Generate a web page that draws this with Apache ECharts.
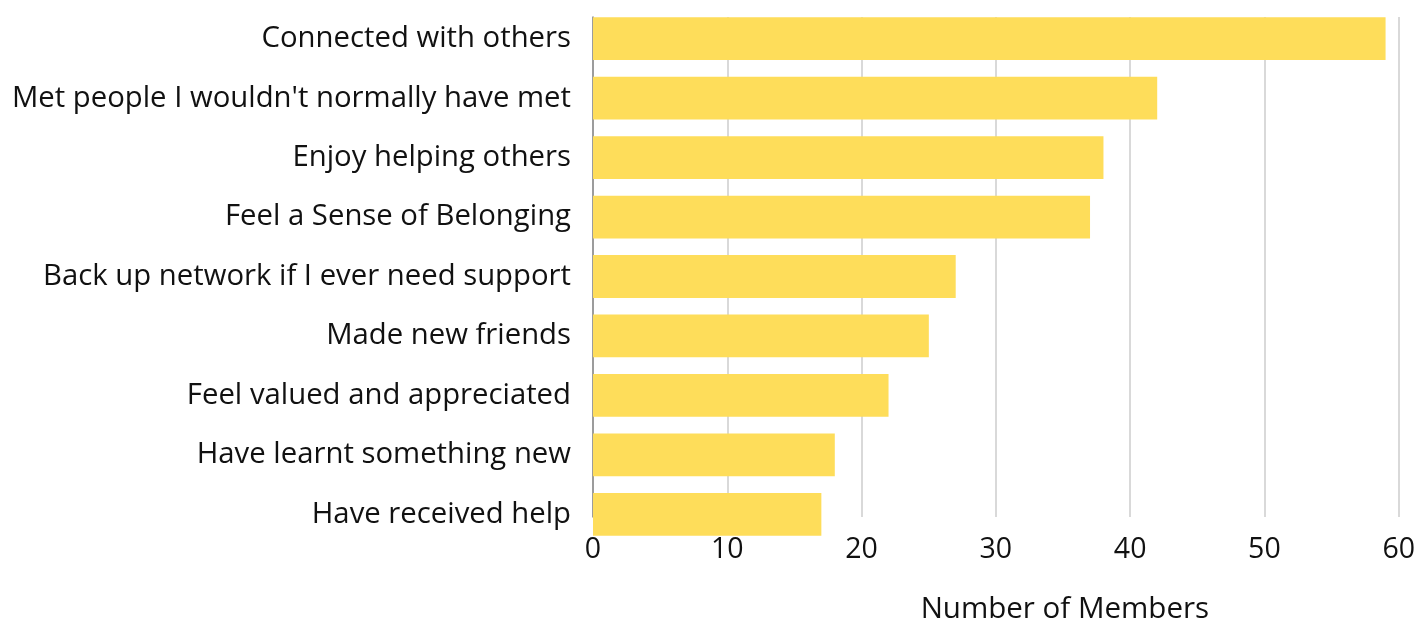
<!DOCTYPE html>
<html><head><meta charset="utf-8">
<script src="https://cdn.jsdelivr.net/npm/echarts@6/dist/echarts.min.js"></script>
<style>html,body{margin:0;padding:0;background:#fff}#c{width:1418px;height:630px}</style>
</head><body><div id="c"></div>
<script>
const categories = ["Connected with others","Met people I wouldn't normally have met","Enjoy helping others","Feel a Sense of Belonging","Back up network if I ever need support","Made new friends","Feel valued and appreciated","Have learnt something new","Have received help"];
const values = [59,42,38,37,27,25,22,18,17];
const xTicks = [0,10,20,30,40,50,60];
const chart = echarts.init(document.getElementById('c'));
const font = "'Open Sans', 'Noto Sans', sans-serif";
const xMin = xTicks[0], xMax = xTicks[xTicks.length-1];
chart.setOption({
  animation:false,
  grid:[
    {left:593,right:19,top:17,bottom:95,containLabel:false},
    {left:593,right:19,top:9,bottom:86,containLabel:false}
  ],
  xAxis:[
    {gridIndex:0,type:'value',min:xMin,max:xMax,interval:10,
    name:'Number of Members',nameLocation:'middle',nameGap:78,
    nameTextStyle:{fontFamily:font,fontSize:29.5,color:'#111',padding:[0,0,0,138]},
    axisLine:{show:false},axisTick:{show:false},
    axisLabel:{fontFamily:font,fontSize:28.5,color:'#111',margin:18},
    splitLine:{show:true,lineStyle:{color:'#cccccc',width:1.5}}},
    {gridIndex:1,type:'value',min:xMin,max:xMax,show:false}
  ],
  yAxis:[
    {gridIndex:0,type:'value',axisLine:{show:true,lineStyle:{color:'#888',width:1.5}},
     axisLabel:{show:false},axisTick:{show:false},splitLine:{show:false}},
    {gridIndex:1,type:'category',data:categories,inverse:true,
    axisLine:{show:false},axisTick:{show:false},
    axisLabel:{fontFamily:font,fontSize:29.3,color:'#111',margin:22}}
  ],
  series:[{type:'bar',xAxisIndex:1,yAxisIndex:1,data:values,barWidth:'72%',itemStyle:{color:'#FEDD5A'}}]
});
</script></body></html>
